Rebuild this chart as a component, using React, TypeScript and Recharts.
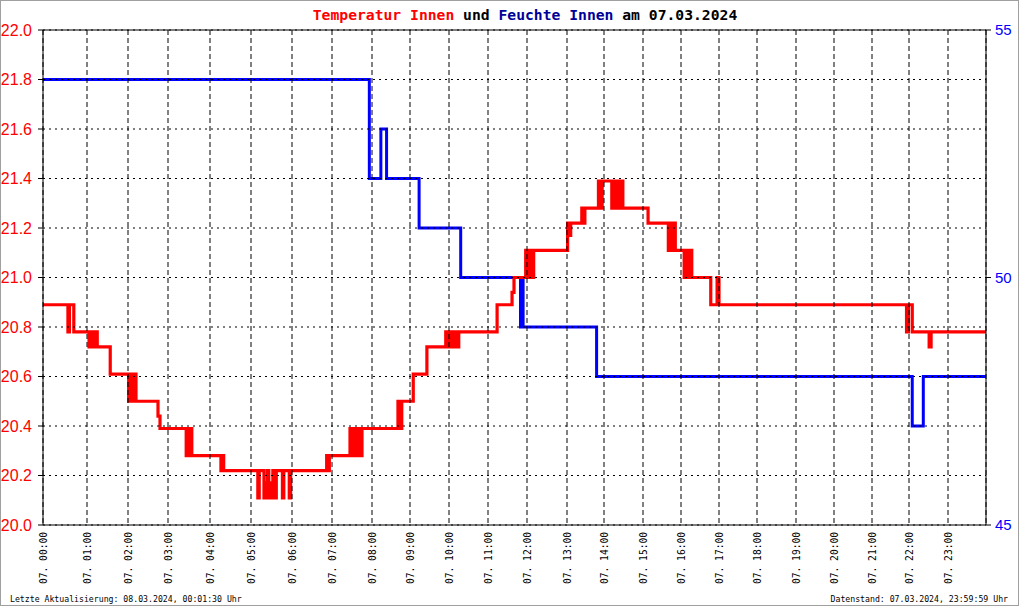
import React from 'react';
import { LineChart, Line, XAxis, YAxis, CartesianGrid, ReferenceLine } from 'recharts';

// number of logged samples per hour (x axis is sample-indexed, like the original)
const hourSamples = [44, 41, 40, 42, 41, 41, 40, 40, 38, 39, 39, 39, 40, 37, 39, 38, 38, 38, 39, 38, 38, 37, 39, 38];

const hourLabels = [
  '07. 00:00', '07. 01:00', '07. 02:00', '07. 03:00', '07. 04:00', '07. 05:00',
  '07. 06:00', '07. 07:00', '07. 08:00', '07. 09:00', '07. 10:00', '07. 11:00',
  '07. 12:00', '07. 13:00', '07. 14:00', '07. 15:00', '07. 16:00', '07. 17:00',
  '07. 18:00', '07. 19:00', '07. 20:00', '07. 21:00', '07. 22:00', '07. 23:00',
];

const tempTicks = [20.0, 20.2, 20.4, 20.6, 20.8, 21.0, 21.2, 21.4, 21.6, 21.8, 22.0];
const humTicks = [45, 50, 55];

const tempTimes = [
  '00:00', '00:34', '00:36', '00:42', '01:03', '01:06', '01:09', '01:12', '01:15', '01:34',
  '02:01', '02:03', '02:06', '02:09', '02:12', '02:45', '02:48', '03:26', '03:28', '03:30',
  '03:32', '03:34', '04:16', '04:18', '04:20', '05:10', '05:12', '05:19', '05:21', '05:22',
  '05:24', '05:26', '05:28', '05:30', '05:32', '05:34', '05:37', '05:46', '05:48', '05:56',
  '05:58', '06:52', '06:54', '06:56', '07:27', '07:30', '07:33', '07:36', '07:39', '07:42',
  '07:45', '08:41', '08:44', '08:47', '09:05', '09:26', '09:55', '09:58', '10:02', '10:05',
  '10:08', '10:11', '10:15', '11:14', '11:37', '11:40', '11:58', '12:01', '12:04', '12:07',
  '12:10', '13:01', '13:03', '13:06', '13:24', '13:27', '13:29', '13:51', '13:53', '13:57',
  '14:12', '14:15', '14:19', '14:22', '14:25', '14:27', '14:29', '15:08', '15:40', '15:43',
  '15:46', '15:48', '15:51', '16:05', '16:08', '16:11', '16:14', '16:17', '16:47', '16:57',
  '17:00', '21:56', '21:59', '22:05', '22:31', '22:34', '24:00',
];
const tempValues = [
  20.89, 20.78, 20.89, 20.78, 20.72, 20.78, 20.72, 20.78, 20.72, 20.61,
  20.50, 20.61, 20.50, 20.61, 20.50, 20.44, 20.39, 20.28, 20.39, 20.28,
  20.39, 20.28, 20.22, 20.28, 20.22, 20.11, 20.22, 20.11, 20.17, 20.11,
  20.22, 20.11, 20.17, 20.11, 20.22, 20.11, 20.22, 20.11, 20.22, 20.11,
  20.22, 20.28, 20.22, 20.28, 20.39, 20.28, 20.39, 20.28, 20.39, 20.28,
  20.39, 20.50, 20.39, 20.50, 20.61, 20.72, 20.78, 20.72, 20.78, 20.72,
  20.78, 20.72, 20.78, 20.89, 20.94, 21.00, 21.11, 21.00, 21.11, 21.00,
  21.11, 21.22, 21.17, 21.22, 21.28, 21.22, 21.28, 21.39, 21.28, 21.39,
  21.28, 21.39, 21.28, 21.39, 21.28, 21.39, 21.28, 21.22, 21.11, 21.22,
  21.11, 21.22, 21.11, 21.00, 21.11, 21.00, 21.11, 21.00, 20.89, 21.00,
  20.89, 20.78, 20.89, 20.78, 20.72, 20.78, 20.78,
];

const humTimes = ['00:00', '07:56', '08:14', '08:23', '09:14', '10:18', '11:50', '11:52', '11:54', '13:48', '22:05', '22:22', '24:00'];
const humValues = [54, 52, 53, 52, 51, 50, 49, 50, 49, 48, 47, 48, 48];

const hourStart: number[] = [0];
hourSamples.forEach((n, i) => hourStart.push(hourStart[i] + n));
const totalSamples = hourStart[hourStart.length - 1];

const toIndex = (t: string): number => {
  const [h, m] = t.split(':').map(Number);
  if (h >= 24) return totalSamples;
  return hourStart[h] + (m / 60) * hourSamples[h];
};

const tempData = tempTimes.map((t, i) => ({ x: toIndex(t), v: tempValues[i] }));
const humData = humTimes.map((t, i) => ({ x: toIndex(t), v: humValues[i] }));
const xTicks = hourStart.slice(0, 24);

const XTick = (props: any) => {
  const { x, y, payload } = props;
  const idx = xTicks.indexOf(payload.value);
  const label = idx >= 0 ? hourLabels[idx] : '';
  return (
    <text
      x={x}
      y={y}
      transform={`rotate(-90 ${x} ${y})`}
      textAnchor="end"
      dy="0.36em"
      fontFamily="'DejaVu Sans Mono', monospace"
      fontSize={11}
      textLength={52}
      lengthAdjust="spacingAndGlyphs"
      fill="#000"
    >
      {label}
    </text>
  );
};

export default function App() {
  const mono = "'DejaVu Sans Mono', monospace";
  return (
    <div style={{ position: 'absolute', left: 0, top: 0, width: 1020, height: 606, background: '#fff' }}>
      <div
        style={{
          position: 'absolute', left: 0, top: 0, width: 1019, height: 606,
          boxSizing: 'border-box', border: '1px solid #a0a0a0',
        }}
      />
      <div style={{ position: 'absolute', left: 0, top: 0 }}>
        <LineChart width={1020} height={606} margin={{ top: 30, right: 0, bottom: 0, left: 0 }}>
          <XAxis
            type="number"
            dataKey="x"
            domain={[0, totalSamples]}
            ticks={xTicks}
            interval={0}
            allowDataOverflow
            height={81}
            tickSize={0}
            tickMargin={7}
            tickLine={false}
            axisLine={{ stroke: '#000' }}
            tick={<XTick />}
          />
          <YAxis
            yAxisId="t"
            domain={[20, 22]}
            ticks={tempTicks}
            interval={0}
            allowDataOverflow
            width={43}
            tickSize={5}
            tickMargin={6}
            tickFormatter={(v: number) => v.toFixed(1)}
            axisLine={{ stroke: '#000' }}
            tickLine={{ stroke: '#000' }}
            tick={{ fill: '#ff0000', fontSize: 16, fontFamily: "'Liberation Sans', Arial, sans-serif" }}
          />
          <YAxis
            yAxisId="h"
            orientation="right"
            domain={[45, 55]}
            ticks={humTicks}
            interval={0}
            allowDataOverflow
            width={34}
            tickSize={5}
            tickMargin={4}
            axisLine={{ stroke: '#000' }}
            tickLine={{ stroke: '#000' }}
            tick={{ fill: '#0000ff', fontSize: 15, fontFamily: "'Liberation Sans', Arial, sans-serif" }}
          />
          <Line
            yAxisId="h"
            data={humData}
            dataKey="v"
            type="stepAfter"
            stroke="#0000ff"
            strokeWidth={3}
            dot={false}
            activeDot={false}
            isAnimationActive={false}
          />
          <Line
            yAxisId="t"
            data={tempData}
            dataKey="v"
            type="stepAfter"
            stroke="#ff0000"
            strokeWidth={3.2}
            dot={false}
            activeDot={false}
            isAnimationActive={false}
          />
          <CartesianGrid
            yAxisId="t"
            vertical={false}
            stroke="#000"
            strokeDasharray="2 4"
            {...({ zIndex: 1000 } as any)}
          />
          <CartesianGrid
            yAxisId="t"
            horizontal={false}
            stroke="#000"
            strokeDasharray="5 3"
            {...({ zIndex: 1000 } as any)}
          />
          <ReferenceLine yAxisId="t" y={22} stroke="#000" strokeWidth={1} />
        </LineChart>
      </div>
      <svg
        width={1020}
        height={606}
        style={{ position: 'absolute', left: 0, top: 0, pointerEvents: 'none' }}
      >
        <text x={525} y={19.5} textAnchor="middle" fontFamily={mono} fontSize={14.7} fontWeight="bold">
          <tspan fill="#ff0000">Temperatur Innen</tspan>
          <tspan fill="#000"> und </tspan>
          <tspan fill="#000099">Feuchte Innen</tspan>
          <tspan fill="#000"> am 07.03.2024</tspan>
        </text>
        <text x={10} y={602} fontFamily={mono} fontSize={8.2} fill="#000">
          Letzte Aktualisierung: 08.03.2024, 00:01:30 Uhr
        </text>
        <text x={1008} y={602} textAnchor="end" fontFamily={mono} fontSize={8.2} fill="#000">
          Datenstand: 07.03.2024, 23:59:59 Uhr
        </text>
      </svg>
    </div>
  );
}
